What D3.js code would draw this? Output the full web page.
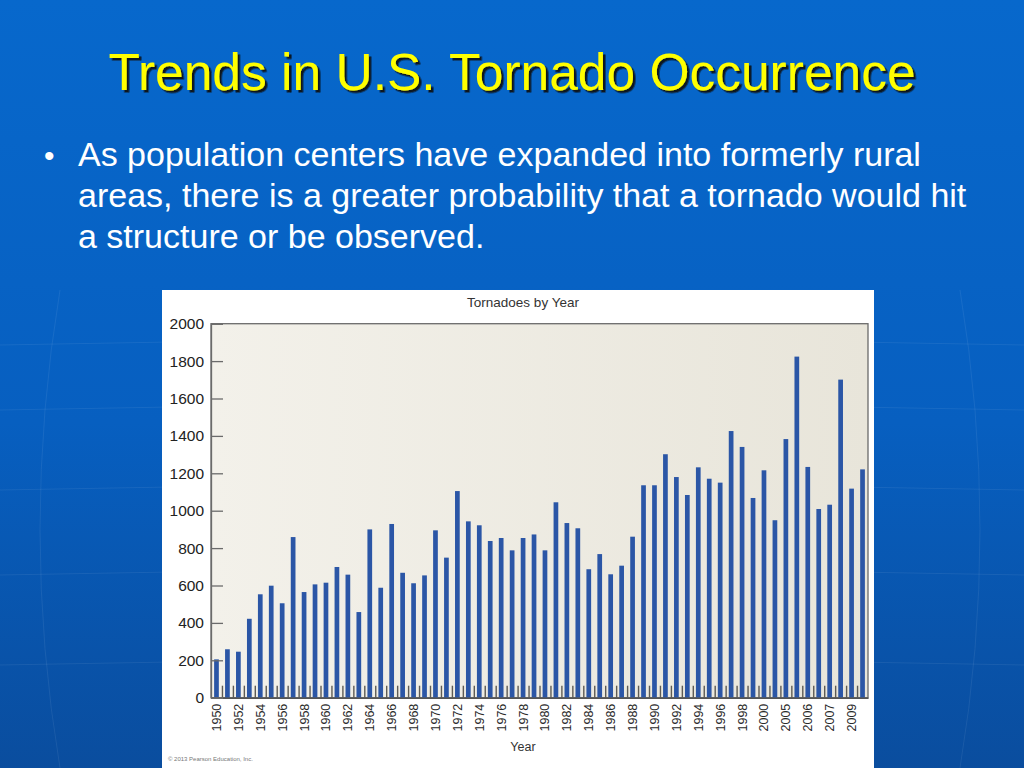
<!DOCTYPE html>
<html>
<head>
<meta charset="utf-8">
<script src="https://cdn.jsdelivr.net/npm/d3@7"></script>
<style>
  body { margin: 0; background: #0660c4; }
  svg { display: block; font-family: Arial, "Liberation Sans", Helvetica, sans-serif; }
</style>
</head>
<body>
<svg id="slide" width="1024" height="768"></svg>
<script>
// tornado counts per bar (60 bars, 1950 onwards)
var counts = [
  205, 259, 246, 422, 553, 599, 505, 859, 565, 606,
  615, 699, 658, 458, 900, 588, 929, 668, 612, 654,
  895, 749, 1105, 943, 922, 838, 854, 788, 854, 873,
  788, 1045, 934, 906, 687, 768, 660, 706, 861, 1136,
  1136, 1302, 1180, 1084, 1232, 1171, 1150, 1426, 1341, 1068,
  1216, 949, 1383, 1824, 1234, 1009, 1032, 1701, 1118, 1221
];

// labels under every second bar, as printed on the original
var tickLabels = [
  '1950', '1952', '1954', '1956', '1958', '1960', '1962', '1964', '1966', '1968',
  '1970', '1972', '1974', '1976', '1978', '1980', '1982', '1984', '1986', '1988',
  '1990', '1992', '1994', '1996', '1998', '2000', '2005', '2006', '2007', '2009'
];

var yTicks = [0, 200, 400, 600, 800, 1000, 1200, 1400, 1600, 1800, 2000];

var bulletLines = [
  'As population centers have expanded into formerly rural',
  'areas, there is a greater probability that a tornado would hit',
  'a structure or be observed.'
];

var svg = d3.select('#slide');
var defs = svg.append('defs');

// slide background
var bg = defs.append('linearGradient').attr('id', 'bg')
  .attr('x1', 0).attr('y1', 0).attr('x2', 0).attr('y2', 1);
bg.append('stop').attr('offset', '0%').attr('stop-color', '#0768cc');
bg.append('stop').attr('offset', '55%').attr('stop-color', '#075fc0');
bg.append('stop').attr('offset', '100%').attr('stop-color', '#0a4d9e');
svg.append('rect').attr('width', 1024).attr('height', 768).attr('fill', 'url(#bg)');

// faint globe lines in the background
var faint = svg.append('g').attr('fill', 'none').attr('stroke', '#ffffff').attr('stroke-opacity', 0.07);
[345, 410, 490, 575, 665].forEach(function (y) {
  faint.append('path').attr('d', 'M0,' + y + ' Q512,' + (y - 12) + ' 1024,' + y);
});
[60, 250, 780, 960].forEach(function (x) {
  faint.append('path').attr('d', 'M' + x + ',290 Q' + (x + (x < 512 ? -40 : 40)) + ',530 ' + x + ',768');
});

// title with drop shadow
var shadow = defs.append('filter').attr('id', 'shadow')
  .attr('x', '-5%').attr('y', '-20%').attr('width', '110%').attr('height', '140%');
shadow.append('feDropShadow')
  .attr('dx', 2.5).attr('dy', 2.5).attr('stdDeviation', 0.6)
  .attr('flood-color', '#111').attr('flood-opacity', 0.9);

svg.append('text').attr('x', 512).attr('y', 90).attr('text-anchor', 'middle')
  .attr('font-size', 51.5).attr('fill', '#ffff00')
  .attr('filter', 'url(#shadow)')
  .text('Trends in U.S. Tornado Occurrence');

// bullet
svg.append('text').attr('x', 44).attr('y', 166).attr('font-size', 30).attr('fill', '#fff').text('\u2022');
svg.selectAll('.bullet-line')
  .data(bulletLines)
  .enter()
  .append('text')
  .attr('class', 'bullet-line')
  .attr('x', 78)
  .attr('y', function (d, i) { return 166 + i * 41; })
  .attr('font-size', 34)
  .attr('fill', '#fff')
  .text(function (d) { return d; });

// chart panel
var panel = { left: 162, top: 290, width: 712, height: 478 };
svg.append('rect')
  .attr('x', panel.left).attr('y', panel.top)
  .attr('width', panel.width).attr('height', panel.height)
  .attr('fill', '#ffffff');

var plot = { left: 211, right: 868, top: 323.7, bottom: 697.7 };

var plotFill = defs.append('linearGradient').attr('id', 'plotfill')
  .attr('x1', 0).attr('y1', 0).attr('x2', 1).attr('y2', 0);
plotFill.append('stop').attr('offset', '0%').attr('stop-color', '#f3f1ea');
plotFill.append('stop').attr('offset', '100%').attr('stop-color', '#e8e5da');

svg.append('rect')
  .attr('x', plot.left).attr('y', plot.top)
  .attr('width', plot.right - plot.left).attr('height', plot.bottom - plot.top)
  .attr('fill', 'url(#plotfill)')
  .attr('stroke', '#6b6b6b').attr('stroke-width', 1.3);

var x = d3.scaleBand()
  .domain(d3.range(counts.length))
  .range([plot.left, plot.right])
  .paddingInner(0.57)
  .paddingOuter(0.285);

var xEdge = d3.scaleLinear()
  .domain([0, counts.length])
  .range([plot.left, plot.right]);

var y = d3.scaleLinear()
  .domain([0, 2000])
  .range([plot.bottom, plot.top]);

// bars
svg.append('g').selectAll('rect')
  .data(counts)
  .enter()
  .append('rect')
  .attr('x', function (d, i) { return x(i); })
  .attr('y', function (d) { return y(d); })
  .attr('width', x.bandwidth())
  .attr('height', function (d) { return y(0) - y(d); })
  .attr('fill', '#2b56a6');

// inner ticks between bars
var edgeAxis = svg.append('g')
  .attr('transform', 'translate(0,' + plot.bottom + ')')
  .call(d3.axisBottom(xEdge).tickValues(d3.range(1, counts.length)).tickSize(-12).tickFormat(''));
edgeAxis.select('.domain').remove();
edgeAxis.selectAll('line').attr('stroke', '#5e5b54').attr('stroke-width', 1.4);

// x labels
var xAxis = svg.append('g')
  .attr('transform', 'translate(0,' + plot.bottom + ')')
  .call(d3.axisBottom(x)
    .tickValues(d3.range(0, counts.length, 2))
    .tickFormat(function (i) { return tickLabels[i / 2]; })
    .tickSize(0));
xAxis.select('.domain').attr('stroke', '#555').attr('stroke-width', 1.5);
xAxis.selectAll('text')
  .attr('x', -6).attr('y', 0).attr('dy', '0.36em')
  .attr('transform', 'rotate(-90)')
  .style('text-anchor', 'end')
  .attr('font-size', 12.5)
  .attr('font-family', 'Arial, "Liberation Sans", sans-serif')
  .attr('fill', '#2a2a2a');

// y axis
var yAxis = svg.append('g')
  .attr('transform', 'translate(' + plot.left + ',0)')
  .call(d3.axisLeft(y).tickValues(yTicks).tickFormat(d3.format('d')).tickSize(-12).tickPadding(7));
yAxis.select('.domain').attr('stroke', '#6b6b6b').attr('stroke-width', 1.3);
yAxis.selectAll('line').attr('stroke', '#6b6b6b').attr('stroke-width', 1.3);
yAxis.selectAll('text')
  .attr('font-size', 15.5)
  .attr('font-family', 'Arial, "Liberation Sans", sans-serif')
  .attr('fill', '#222');

// chart title and axis title
svg.append('text').attr('x', 523).attr('y', 307).attr('text-anchor', 'middle')
  .attr('font-size', 13.5).attr('fill', '#333').text('Tornadoes by Year');
svg.append('text').attr('x', 523).attr('y', 751).attr('text-anchor', 'middle')
  .attr('font-size', 12.5).attr('fill', '#333').text('Year');

svg.append('text').attr('x', 168).attr('y', 761)
  .attr('font-size', 6).attr('fill', '#777').text('\u00a9 2013 Pearson Education, Inc.');
</script>
</body>
</html>
